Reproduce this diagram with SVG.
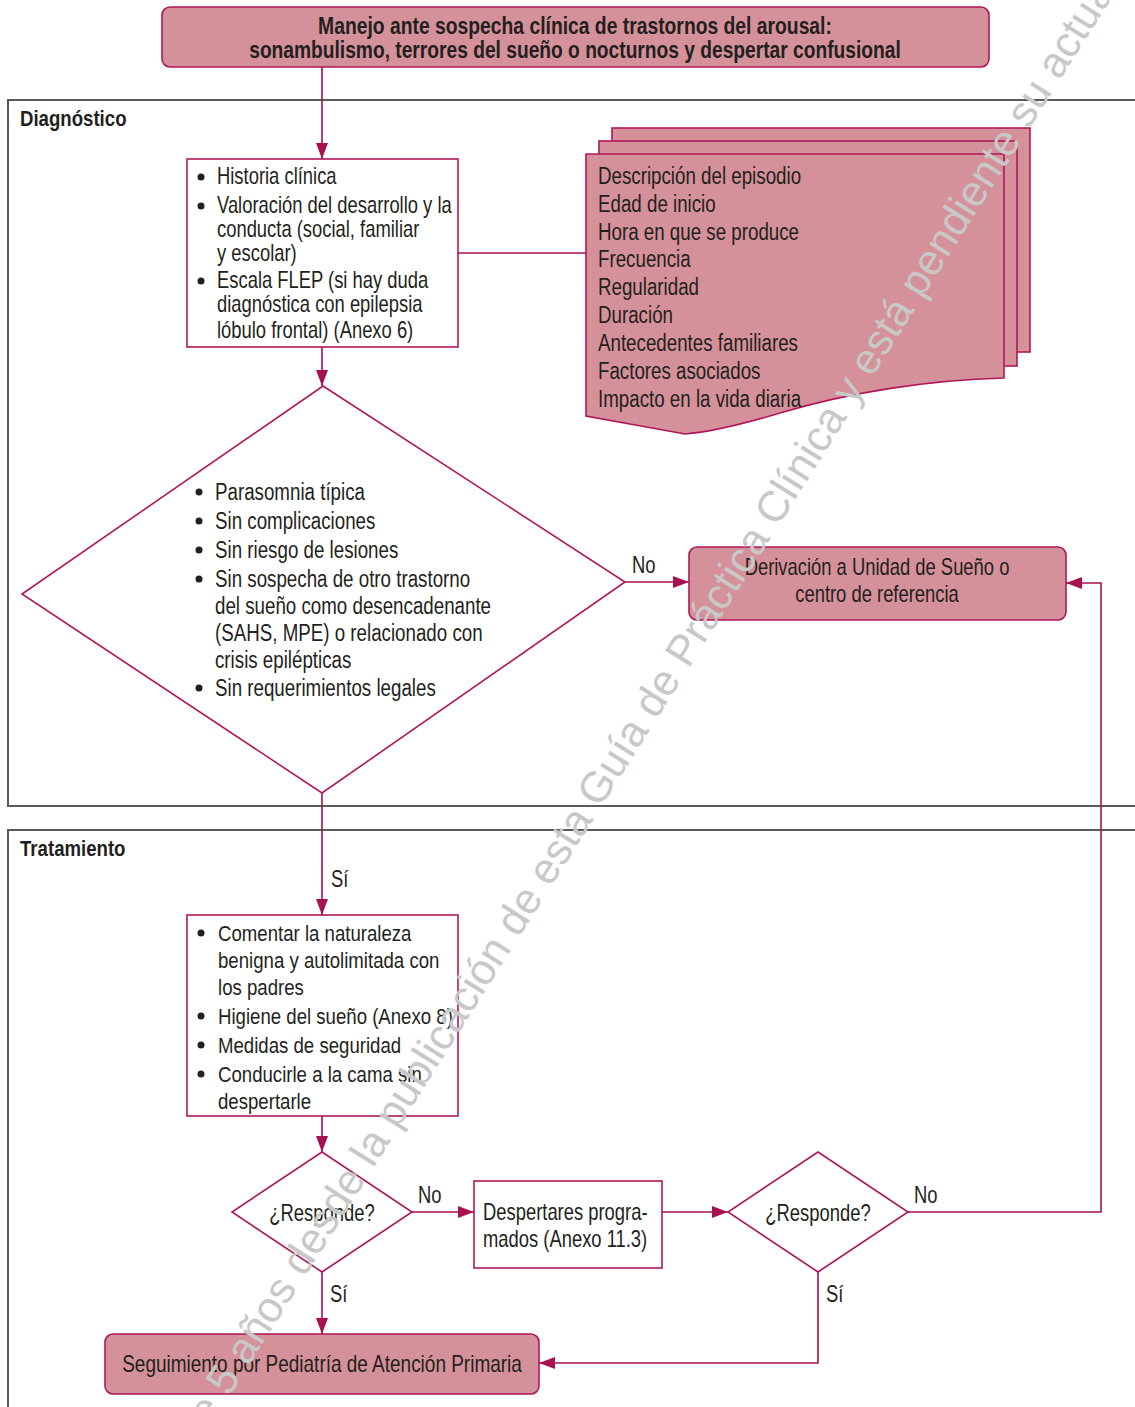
<svg xmlns="http://www.w3.org/2000/svg" width="1135" height="1407" viewBox="0 0 1135 1407">
<style>
.t{font-family:"Liberation Sans",Arial,sans-serif;font-size:23px;fill:#231f20}
.b{font-weight:bold}
.c{text-anchor:middle}
.pink{fill:#d5919a;stroke:#b0175a;stroke-width:1.6}
.box{fill:#fff;stroke:#b0175a;stroke-width:1.6}
.sec{fill:none;stroke:#5a5a5a;stroke-width:2}
.ln{fill:none;stroke:#a8104f;stroke-width:1.6}
.dot{fill:#231f20}
.wm{font-family:"Liberation Sans",Arial,sans-serif;font-size:43px;fill:#c8c8c8}
</style>
<defs>
<marker id="ah" markerUnits="userSpaceOnUse" markerWidth="16" markerHeight="14" viewBox="0 0 16 14" refX="16" refY="7" orient="auto">
<path d="M0,1 L16,7 L0,13 z" fill="#a8104f"/>
</marker>
</defs>
<rect width="1135" height="1407" fill="#fff"/>

<g id="sections">
<path class="sec" d="M1140,100 H8 V806 H1140"/>
<path class="sec" d="M1140,830 H8 V1410"/>
<g transform="translate(20,0) scale(0.81,1)">
<text class="t b" y="126">Diagnóstico</text>
<text class="t b" y="856">Tratamiento</text>
</g>
</g>

<g id="connectors">
<path class="ln" d="M322,67 V159" marker-end="url(#ah)"/>
<path class="ln" d="M458,253 H586"/>
<path class="ln" d="M322,347 V386" marker-end="url(#ah)"/>
<path class="ln" d="M625,582 H689" marker-end="url(#ah)"/>
<path class="ln" d="M322,793 V915" marker-end="url(#ah)"/>
<path class="ln" d="M322,1116 V1152" marker-end="url(#ah)"/>
<path class="ln" d="M412,1212 H474" marker-end="url(#ah)"/>
<path class="ln" d="M662,1212 H728" marker-end="url(#ah)"/>
<path class="ln" d="M908,1212 H1101 V583 H1066" marker-end="url(#ah)"/>
<path class="ln" d="M322,1272 V1334" marker-end="url(#ah)"/>
<path class="ln" d="M818,1272 V1363 H539" marker-end="url(#ah)"/>
<text class="t" transform="translate(632,573) scale(0.8,1)">No</text>
<text class="t" transform="translate(331,887) scale(0.8,1)">Sí</text>
<text class="t" transform="translate(418,1203) scale(0.8,1)">No</text>
<text class="t" transform="translate(914,1203) scale(0.8,1)">No</text>
<text class="t" transform="translate(330,1302) scale(0.8,1)">Sí</text>
<text class="t" transform="translate(826,1302) scale(0.8,1)">Sí</text>
</g>

<g id="title">
<rect class="pink" x="162" y="7" width="827" height="60" rx="8"/>
<g transform="translate(575,0) scale(0.84,1)">
<text class="t b c" y="34">Manejo ante sospecha clínica de trastornos del arousal:</text>
</g>
<g transform="translate(575,0) scale(0.835,1)">
<text class="t b c" y="58">sonambulismo, terrores del sueño o nocturnos y despertar confusional</text>
</g>
</g>

<g id="historia">
<rect class="box" x="187" y="159" width="271" height="188"/>
<circle class="dot" cx="201" cy="177" r="3.5"/>
<circle class="dot" cx="201" cy="206" r="3.5"/>
<circle class="dot" cx="201" cy="281" r="3.5"/>
<g transform="translate(217,0) scale(0.8,1)">
<text class="t" y="184">Historia clínica</text>
<text class="t" y="213">Valoración del desarrollo y la</text>
<text class="t" y="237">conducta (social, familiar</text>
<text class="t" y="261">y escolar)</text>
<text class="t" y="288">Escala FLEP (si hay duda</text>
<text class="t" y="312">diagnóstica con epilepsia</text>
<text class="t" y="338">lóbulo frontal) (Anexo 6)</text>
</g>
</g>

<g id="documento">
<rect class="pink" x="612" y="128" width="418" height="224"/>
<rect class="pink" x="599" y="141" width="418" height="225"/>
<path class="pink" d="M586,154 H1004 V378 C930,380 850,392 780,413 C740,425 710,432 685,434 L586,416 Z"/>
<g transform="translate(598,0) scale(0.815,1)">
<text class="t" y="184">Descripción del episodio</text>
<text class="t" y="212">Edad de inicio</text>
<text class="t" y="240">Hora en que se produce</text>
<text class="t" y="267">Frecuencia</text>
<text class="t" y="295">Regularidad</text>
<text class="t" y="323">Duración</text>
<text class="t" y="351">Antecedentes familiares</text>
<text class="t" y="379">Factores asociados</text>
<text class="t" y="407">Impacto en la vida diaria</text>
</g>
</g>

<g id="criterios">
<path class="box" d="M323,386 L625,582 L322,793 L22,594 Z"/>
<circle class="dot" cx="199" cy="492" r="3.5"/>
<circle class="dot" cx="199" cy="521" r="3.5"/>
<circle class="dot" cx="199" cy="550" r="3.5"/>
<circle class="dot" cx="199" cy="579" r="3.5"/>
<circle class="dot" cx="199" cy="688" r="3.5"/>
<g transform="translate(215,0) scale(0.815,1)">
<text class="t" y="500">Parasomnia típica</text>
<text class="t" y="529">Sin complicaciones</text>
<text class="t" y="558">Sin riesgo de lesiones</text>
<text class="t" y="587">Sin sospecha de otro trastorno</text>
<text class="t" y="614">del sueño como desencadenante</text>
<text class="t" y="641">(SAHS, MPE) o relacionado con</text>
<text class="t" y="668">crisis epilépticas</text>
<text class="t" y="696">Sin requerimientos legales</text>
</g>
</g>

<g id="derivacion">
<rect class="pink" x="689" y="547" width="377" height="73" rx="8"/>
<g transform="translate(877,0) scale(0.8,1)">
<text class="t c" y="575">Derivación a Unidad de Sueño o</text>
<text class="t c" y="602">centro de referencia</text>
</g>
</g>

<g id="medidas">
<rect class="box" x="187" y="915" width="271" height="201"/>
<circle class="dot" cx="201" cy="933" r="3.5"/>
<circle class="dot" cx="201" cy="1016" r="3.5"/>
<circle class="dot" cx="201" cy="1045" r="3.5"/>
<circle class="dot" cx="201" cy="1074" r="3.5"/>
<g transform="translate(218,0) scale(0.81,1)">
<text class="t" y="941">Comentar la naturaleza</text>
<text class="t" y="968">benigna y autolimitada con</text>
<text class="t" y="995">los padres</text>
<text class="t" y="1024">Higiene del sueño (Anexo 8)</text>
<text class="t" y="1053">Medidas de seguridad</text>
<text class="t" y="1082">Conducirle a la cama sin</text>
<text class="t" y="1109">despertarle</text>
</g>
</g>

<g id="responde1">
<path class="box" d="M322,1152 L412,1212 L322,1272 L232,1212 Z"/>
<text class="t c" transform="translate(322,1221) scale(0.8,1)">¿Responde?</text>
</g>

<g id="despertares">
<rect class="box" x="474" y="1181" width="188" height="87"/>
<g transform="translate(483,0) scale(0.8,1)">
<text class="t" y="1220">Despertares progra-</text>
<text class="t" y="1247">mados (Anexo 11.3)</text>
</g>
</g>

<g id="responde2">
<path class="box" d="M818,1152 L908,1212 L818,1272 L728,1212 Z"/>
<text class="t c" transform="translate(818,1221) scale(0.8,1)">¿Responde?</text>
</g>

<g id="seguimiento">
<rect class="pink" x="105" y="1334" width="434" height="60" rx="8"/>
<text class="t c" transform="translate(322,1372) scale(0.825,1)">Seguimiento por Pediatría de Atención Primaria</text>
</g>

<g id="watermark">
<text class="wm" transform="translate(229,1397) rotate(-57.75)" x="-397" y="0">Han pasado más de 5 años desde la publicación de esta Guía de Práctica Clínica y está pendiente su actualización</text>
</g>
</svg>
